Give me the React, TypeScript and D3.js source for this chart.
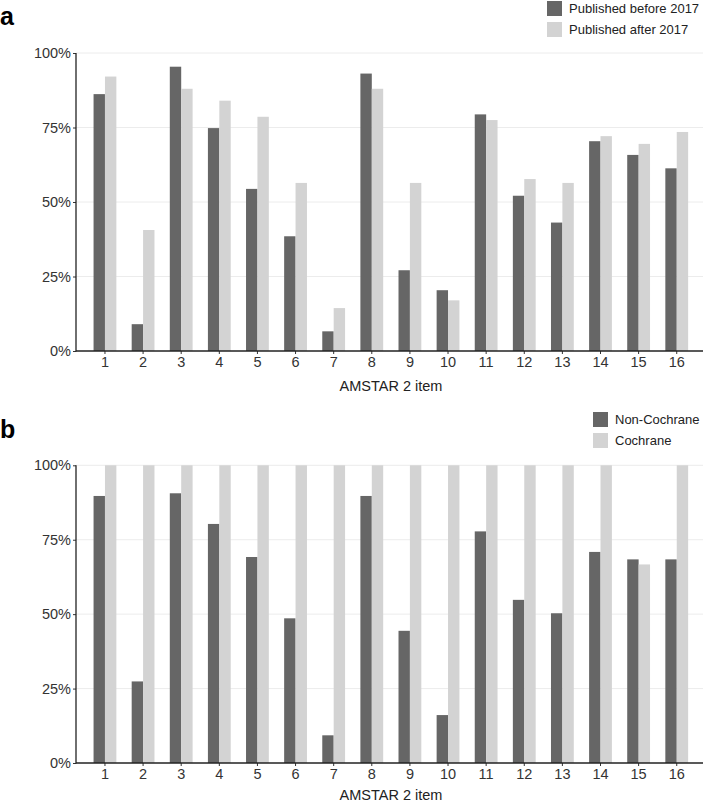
import React, { useEffect, useRef } from "react";
import * as d3 from "d3";

const items = ["1", "2", "3", "4", "5", "6", "7", "8", "9", "10", "11", "12", "13", "14", "15", "16"];
const yTicks = [0, 25, 50, 75, 100];

const beforeValues = [86.2, 9.0, 95.4, 74.8, 54.4, 38.5, 6.6, 93.1, 27.1, 20.4, 79.4, 52.1, 43.1, 70.4, 65.8, 61.3];
const afterValues = [92.1, 40.6, 88.0, 84.0, 78.6, 56.4, 14.4, 88.0, 56.4, 17.0, 77.5, 57.7, 56.4, 72.1, 69.5, 73.5];
const nonCochraneValues = [89.7, 27.4, 90.6, 80.3, 69.2, 48.6, 9.3, 89.7, 44.4, 16.1, 77.8, 54.8, 50.3, 70.9, 68.4, 68.4];
const cochraneValues = [100, 100, 100, 100, 100, 100, 100, 100, 100, 100, 100, 100, 100, 100, 66.7, 100];

const seriesColors = ["#666666", "#d3d3d3"];
const font = "'Liberation Sans', Arial, sans-serif";

type PanelProps = {
  g: d3.Selection<SVGGElement, unknown, null, undefined>;
  label: string;
  names: string[];
  series: number[][];
  top: number; // y of 100%
  bottom: number; // y of 0%
  legendX: number;
  legendY: number;
  labelY: number;
  titleOffset: number;
};

function drawPanel({ g, label, names, series, top, bottom, legendX, legendY, labelY, titleOffset }: PanelProps) {
  const left = 76;
  const right = 703;

  const x = d3.scaleBand<string>().domain(items).range([85.9, 695.8]).padding(0);
  const inner = d3.scaleBand<number>().domain([0, 1]).range([-11.4, 11.4]);
  const y = d3.scaleLinear().domain([0, 100]).range([bottom, top]);

  // grid
  g.append("g")
    .selectAll("line")
    .data(yTicks.filter(d => d > 0))
    .enter()
    .append("line")
    .attr("x1", left)
    .attr("x2", right)
    .attr("y1", d => y(d))
    .attr("y2", d => y(d))
    .attr("stroke", "#ececec")
    .attr("stroke-width", 1);

  // bars
  series.forEach((vals, si) => {
    g.append("g")
      .selectAll("rect")
      .data(vals)
      .enter()
      .append("rect")
      .attr("x", (_, i) => x(items[i])! + x.bandwidth() / 2 + inner(si)!)
      .attr("width", inner.bandwidth())
      .attr("y", d => y(d))
      .attr("height", d => bottom - y(d))
      .attr("fill", seriesColors[si]);
  });

  // axes
  const yAxis = g.append("g")
    .attr("transform", `translate(${left},0)`)
    .call(d3.axisLeft(y).tickValues(yTicks).tickSize(3).tickPadding(2).tickFormat(d => `${d}%`));
  yAxis.select(".domain").remove();
  yAxis.append("line")
    .attr("x1", 0).attr("x2", 0)
    .attr("y1", top).attr("y2", bottom + 0.5)
    .attr("stroke", "#222").attr("stroke-width", 1.3);

  const xAxis = g.append("g")
    .attr("transform", `translate(0,${bottom})`)
    .call(d3.axisBottom(x).tickSize(3).tickPadding(3));
  xAxis.select(".domain").remove();
  xAxis.append("line")
    .attr("x1", left).attr("x2", right)
    .attr("stroke", "#222").attr("stroke-width", 1.3);

  [yAxis, xAxis].forEach(ax => {
    ax.selectAll(".tick line").attr("stroke", "#333");
    ax.selectAll(".tick text")
      .attr("fill", "#333")
      .style("font-family", font)
      .style("font-size", "14.5px");
  });

  g.append("text")
    .attr("x", 391)
    .attr("y", bottom + titleOffset)
    .attr("text-anchor", "middle")
    .attr("fill", "#222")
    .style("font-family", font)
    .style("font-size", "14.5px")
    .text("AMSTAR 2 item");

  // panel letter
  g.append("text")
    .attr("x", 0)
    .attr("y", labelY)
    .attr("fill", "#000")
    .style("font-family", font)
    .style("font-weight", "bold")
    .style("font-size", "25px")
    .text(label);

  // legend
  names.forEach((name, i) => {
    const ly = legendY + i * 21;
    g.append("rect")
      .attr("x", legendX)
      .attr("y", ly)
      .attr("width", 15)
      .attr("height", 15)
      .attr("fill", seriesColors[i]);
    g.append("text")
      .attr("x", legendX + 22)
      .attr("y", ly + 7.5)
      .attr("dy", "0.35em")
      .attr("fill", "#222")
      .style("font-family", font)
      .style("font-size", "13px")
      .text(name);
  });
}

const App = () => {
  const ref = useRef<SVGSVGElement>(null);

  useEffect(() => {
    const svg = d3.select(ref.current);
    svg.selectAll("*").remove();

    drawPanel({
      g: svg.append("g"),
      label: "a",
      names: ["Published before 2017", "Published after 2017"],
      series: [beforeValues, afterValues],
      top: 53,
      bottom: 351,
      legendX: 547,
      legendY: 1,
      labelY: 25,
      titleOffset: 40,
    });

    drawPanel({
      g: svg.append("g"),
      label: "b",
      names: ["Non-Cochrane", "Cochrane"],
      series: [nonCochraneValues, cochraneValues],
      top: 465.3,
      bottom: 763,
      legendX: 593,
      legendY: 412,
      labelY: 438,
      titleOffset: 37,
    });
  }, []);

  return (
    <svg
      ref={ref}
      width={707}
      height={804}
      style={{ position: "absolute", left: 0, top: 0, background: "#fff" }}
    />
  );
};

export default App;
